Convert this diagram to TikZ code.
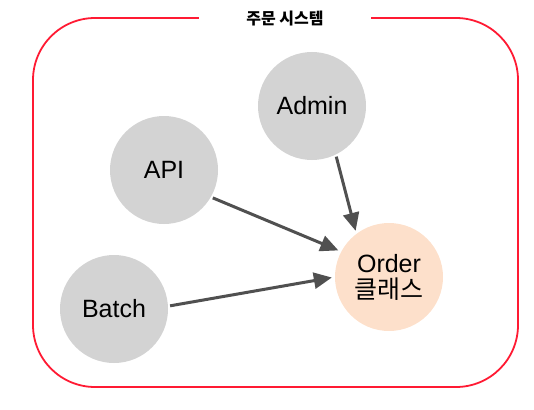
\documentclass[tikz,border=0pt]{standalone}
\usepackage{fontspec}
\setmainfont{Liberation Sans}
\newfontfamily\kr{Noto Sans CJK KR}
\usetikzlibrary{arrows.meta}
\definecolor{nodegray}{HTML}{D3D3D3}
\definecolor{peach}{HTML}{FDE0CB}
\definecolor{edgegray}{HTML}{505050}
\definecolor{framered}{HTML}{FF1A33}

\begin{document}
\begin{tikzpicture}[x=1pt,y=-1pt,
  client/.style={circle,fill=nodegray,minimum size=108pt,inner sep=0pt,font=\fontsize{25}{29}\selectfont},
  target/.style={client,fill=peach,align=center},
  link/.style={edgegray,line width=3pt,-{Triangle[length=18pt,width=16pt]},shorten >=3pt,shorten <=2pt}]
\useasboundingbox (0,0) rectangle (534,409);
%frame
\draw[framered,line width=1.8pt,rounded corners=62pt] (33,18) rectangle (518,387);
\node[fill=white,inner xsep=47pt,inner ysep=4pt,font=\kr\bfseries\fontsize{16}{18}\selectfont] (title) at (285,19) {주문 시스템};
%nodes
\node[client] (admin) at (312,106) {Admin};
\node[client] (api) at (164,170) {API};
\node[client] (batch) at (114,309) {Batch};
\node[target] (order) at (389,277) {Order\\[-3pt]{\kr 클래스}};
%links
\draw[link] (api.330) -- (order.152);
\draw[link] (admin.296) -- (order.127);
\draw[link] (batch.3) -- (order.180);
\end{tikzpicture}
\end{document}
